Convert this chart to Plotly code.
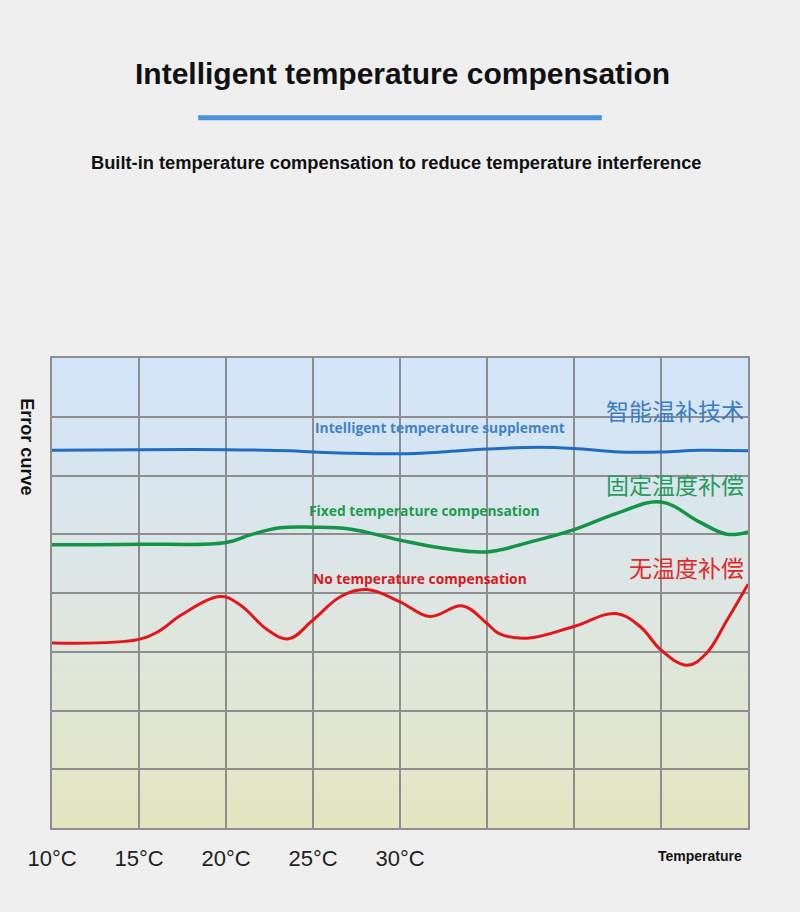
import plotly.graph_objects as go

# --- data (x = temperature in °C, y = error in grid units 0..8) ---
temp_ticks = [10, 15, 20, 25, 30, 35, 40, 45, 50]
tick_text = ["10°C", "15°C", "20°C", "25°C", "30°C", "", "", "", ""]

blue_x = [10, 15, 20, 23.7, 25, 27, 30, 32.4, 35, 38, 40, 42.6, 45, 47.2, 50]
blue_y = [6.43, 6.44, 6.44, 6.42, 6.40, 6.38, 6.37, 6.40, 6.45, 6.48, 6.46, 6.40, 6.40, 6.43, 6.42]

green_x = [10, 15, 20, 21.4, 23.1, 25, 27.1, 30, 32.5, 35, 37.5, 40, 42.5, 45, 47.2, 48.8, 50]
green_y = [4.82, 4.83, 4.86, 4.99, 5.11, 5.12, 5.09, 4.90, 4.76, 4.70, 4.87, 5.08, 5.36, 5.55, 5.21, 5.00, 5.04]

red_x = [10, 15, 16.2, 17.4, 19.7, 20.8, 22.4, 23.6, 25, 26.6, 28.1, 30, 31.7, 33.6, 35, 35.7,
         37.3, 40, 42.4, 43.8, 45, 46.5, 47.6, 48.8, 50]
red_y = [3.15, 3.21, 3.36, 3.62, 3.94, 3.80, 3.37, 3.22, 3.54, 3.94, 4.06, 3.85, 3.60, 3.78, 3.48, 3.31,
         3.23, 3.43, 3.65, 3.43, 3.03, 2.77, 2.97, 3.54, 4.15]

series_en = ["Intelligent temperature supplement", "Fixed temperature compensation", "No temperature compensation"]
series_cn = ["智能温补技术", "固定温度补偿", "无温度补偿"]
line_colors = ["#1f6cc0", "#159447", "#e3161b"]
text_colors = ["#3f82c8", "#1e9a4e", "#d8181e"]
cn_colors = ["#3a7dc6", "#2a9a5c", "#e02a2a"]

GRID = "#8e8e8e"
CN_FONT = "Noto Sans CJK SC"
SANS = "Liberation Sans"

fig = go.Figure()

# gradient background of the plot area (light blue -> pale yellow-green)
top = (211, 229, 250)
mid = (221, 230, 228)
bot = (228, 230, 194)
n_bands = 48
for i in range(n_bands):
    f = i / (n_bands - 1)
    if f < 0.5:
        g = f / 0.5
        c = [round(top[k] + (mid[k] - top[k]) * g) for k in range(3)]
    else:
        g = (f - 0.5) / 0.5
        c = [round(mid[k] + (bot[k] - mid[k]) * g) for k in range(3)]
    fig.add_shape(type="rect", xref="paper", yref="paper",
                  x0=0, x1=1, y0=1 - (i + 1) / n_bands, y1=1 - i / n_bands + 0.001,
                  fillcolor="rgb(%d,%d,%d)" % tuple(c), line_width=0, layer="below")

for xs, ys, col, w in [(blue_x, blue_y, line_colors[0], 3),
                       (green_x, green_y, line_colors[1], 3.5),
                       (red_x, red_y, line_colors[2], 3)]:
    fig.add_trace(go.Scatter(x=xs, y=ys, mode="lines",
                             line=dict(color=col, width=w, shape="spline", smoothing=1.1),
                             hoverinfo="skip", showlegend=False))

# english labels inside the plot
en_pos = [(32.3, 6.81), (31.4, 5.40), (31.15, 4.24)]
for (ax, ay), txt, col in zip(en_pos, series_en, text_colors):
    fig.add_annotation(x=ax, y=ay, text="<b>" + txt + "</b>", showarrow=False,
                       font=dict(family="Open Sans", size=13.8, color=col))

# chinese labels, right side
cn_pos = [7.11, 5.86, 4.44]
for ay, txt, col in zip(cn_pos, series_cn, cn_colors):
    fig.add_annotation(x=49.9, y=ay, text=txt, showarrow=False, xanchor="right",
                       font=dict(family=CN_FONT, size=23, color=col))

# title, underline bar and subtitle
fig.add_annotation(xref="paper", yref="paper", x=0.503, y=1.606, showarrow=False,
                   xanchor="center", yanchor="middle",
                   text="<b>Intelligent temperature compensation</b>",
                   font=dict(family=SANS, size=30, color="#111111"))
fig.add_shape(type="line", xref="paper", yref="paper", x0=0.21, x1=0.79, y0=1.511, y1=1.511,
              line=dict(color="#4d92dc", width=5))
fig.add_annotation(xref="paper", yref="paper", x=0.495, y=1.417, showarrow=False,
                   xanchor="center", yanchor="middle",
                   text="<b>Built-in temperature compensation to reduce temperature interference</b>",
                   font=dict(family=SANS, size=18.3, color="#111111"))

# axis captions
fig.add_annotation(xref="paper", yref="paper", x=-0.036, y=0.81, showarrow=False, textangle=90,
                   xanchor="center", yanchor="middle",
                   text="<b>Error curve</b>",
                   font=dict(family=SANS, size=18, color="#111111"))
fig.add_annotation(xref="paper", yref="paper", x=0.931, y=-0.06, showarrow=False,
                   xanchor="center", yanchor="middle",
                   text="<b>Temperature</b>",
                   font=dict(family=SANS, size=14, color="#111111"))

fig.update_xaxes(range=[10, 50], tickvals=temp_ticks, ticktext=tick_text,
                 showgrid=True, gridcolor=GRID, gridwidth=2, zeroline=False,
                 showline=True, mirror=True, linecolor=GRID, linewidth=2,
                 ticks="", ticklabelstandoff=10,
                 tickfont=dict(family=SANS, size=22, color="#222222"))
fig.update_yaxes(range=[0, 8], dtick=1, showticklabels=False,
                 showgrid=True, gridcolor=GRID, gridwidth=2, zeroline=False,
                 showline=True, mirror=True, linecolor=GRID, linewidth=2)

fig.update_layout(width=800, height=912,
                  margin=dict(l=52, r=52, t=358, b=84),
                  paper_bgcolor="#efefef", plot_bgcolor="rgba(0,0,0,0)",
                  showlegend=False)

fig.write_html("out.html", config={"displayModeBar": False},
               post_script="document.body.style.margin='0px';"
                           "document.body.style.background='#efefef';")
